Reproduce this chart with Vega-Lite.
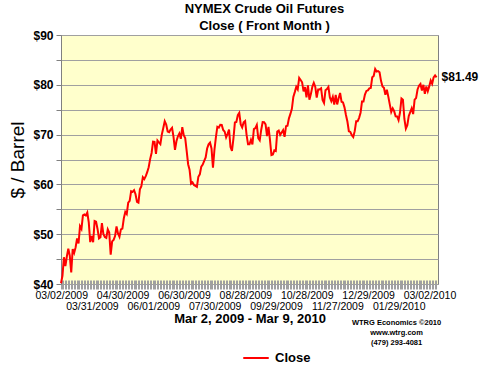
{
  "$schema": "https://vega.github.io/schema/vega-lite/v6.json",
  "width": 377,
  "height": 249,
  "autosize": "none",
  "padding": {"left": 61, "top": 35, "right": 62, "bottom": 91},
  "background": "white",
  "config": {
    "font": "Liberation Sans",
    "view": {"fill": "#FFFFCC", "stroke": "#808080", "strokeWidth": 1},
    "axis": {"labelFont": "Liberation Sans", "titleFont": "Liberation Sans", "labelColor": "black", "titleColor": "black"}
  },
  "title": {
    "text": ["NYMEX Crude Oil Futures", "Close ( Front Month )"],
    "font": "Liberation Sans",
    "fontSize": 13,
    "fontWeight": "bold",
    "lineHeight": 17,
    "anchor": "middle",
    "dx": 15,
    "offset": -4,
    "color": "black"
  },
  "data": {
    "values": [
      {"date":"03/02/2009","close":40.15},{"date":"03/03/2009","close":41.65},{"date":"03/04/2009","close":45.38},{"date":"03/05/2009","close":43.61},{"date":"03/06/2009","close":45.52},
      {"date":"03/09/2009","close":47.07},{"date":"03/10/2009","close":45.71},{"date":"03/11/2009","close":42.33},{"date":"03/12/2009","close":47.03},{"date":"03/13/2009","close":46.25},
      {"date":"03/16/2009","close":47.35},{"date":"03/17/2009","close":49.16},{"date":"03/18/2009","close":48.14},{"date":"03/19/2009","close":51.61},{"date":"03/20/2009","close":51.06},
      {"date":"03/23/2009","close":53.80},{"date":"03/24/2009","close":53.98},{"date":"03/25/2009","close":53.77},{"date":"03/26/2009","close":54.34},{"date":"03/27/2009","close":52.38},
      {"date":"03/30/2009","close":48.41},{"date":"03/31/2009","close":49.66},
      {"date":"04/01/2009","close":48.39},{"date":"04/02/2009","close":52.64},{"date":"04/03/2009","close":52.51},
      {"date":"04/06/2009","close":51.05},{"date":"04/07/2009","close":49.15},{"date":"04/08/2009","close":49.38},{"date":"04/09/2009","close":52.24},
      {"date":"04/13/2009","close":50.05},{"date":"04/14/2009","close":49.41},{"date":"04/15/2009","close":49.25},{"date":"04/16/2009","close":50.98},{"date":"04/17/2009","close":50.33},
      {"date":"04/20/2009","close":45.88},{"date":"04/21/2009","close":48.55},{"date":"04/22/2009","close":48.86},{"date":"04/23/2009","close":49.62},{"date":"04/24/2009","close":51.55},
      {"date":"04/27/2009","close":50.14},{"date":"04/28/2009","close":49.48},{"date":"04/29/2009","close":50.97},{"date":"04/30/2009","close":51.12},
      {"date":"05/01/2009","close":53.20},
      {"date":"05/04/2009","close":54.47},{"date":"05/05/2009","close":54.06},{"date":"05/06/2009","close":56.34},{"date":"05/07/2009","close":56.71},{"date":"05/08/2009","close":58.63},
      {"date":"05/11/2009","close":58.50},{"date":"05/12/2009","close":58.85},{"date":"05/13/2009","close":58.02},{"date":"05/14/2009","close":56.51},{"date":"05/15/2009","close":56.34},
      {"date":"05/18/2009","close":59.03},{"date":"05/19/2009","close":59.65},{"date":"05/20/2009","close":61.45},{"date":"05/21/2009","close":61.05},{"date":"05/22/2009","close":61.67},
      {"date":"05/26/2009","close":62.45},{"date":"05/27/2009","close":63.45},{"date":"05/28/2009","close":65.08},{"date":"05/29/2009","close":66.31},
      {"date":"06/01/2009","close":68.58},{"date":"06/02/2009","close":68.55},{"date":"06/03/2009","close":66.12},{"date":"06/04/2009","close":68.81},{"date":"06/05/2009","close":68.44},
      {"date":"06/08/2009","close":68.09},{"date":"06/09/2009","close":70.01},{"date":"06/10/2009","close":71.33},{"date":"06/11/2009","close":72.68},{"date":"06/12/2009","close":72.04},
      {"date":"06/15/2009","close":70.62},{"date":"06/16/2009","close":70.47},{"date":"06/17/2009","close":71.03},{"date":"06/18/2009","close":71.37},{"date":"06/19/2009","close":69.55},
      {"date":"06/22/2009","close":66.93},{"date":"06/23/2009","close":68.67},{"date":"06/24/2009","close":69.66},{"date":"06/25/2009","close":70.23},{"date":"06/26/2009","close":69.16},
      {"date":"06/29/2009","close":71.49},{"date":"06/30/2009","close":69.89},
      {"date":"07/01/2009","close":69.31},{"date":"07/02/2009","close":66.73},
      {"date":"07/06/2009","close":64.05},{"date":"07/07/2009","close":62.93},{"date":"07/08/2009","close":60.14},{"date":"07/09/2009","close":60.41},{"date":"07/10/2009","close":59.89},
      {"date":"07/13/2009","close":59.69},{"date":"07/14/2009","close":59.52},{"date":"07/15/2009","close":61.54},{"date":"07/16/2009","close":62.02},{"date":"07/17/2009","close":63.56},
      {"date":"07/20/2009","close":63.98},{"date":"07/21/2009","close":64.72},{"date":"07/22/2009","close":65.40},{"date":"07/23/2009","close":67.20},{"date":"07/24/2009","close":68.05},
      {"date":"07/27/2009","close":68.38},{"date":"07/28/2009","close":67.23},{"date":"07/29/2009","close":63.35},{"date":"07/30/2009","close":66.94},{"date":"07/31/2009","close":69.45},
      {"date":"08/03/2009","close":71.58},{"date":"08/04/2009","close":71.42},{"date":"08/05/2009","close":71.97},{"date":"08/06/2009","close":71.94},{"date":"08/07/2009","close":70.93},
      {"date":"08/10/2009","close":70.60},{"date":"08/11/2009","close":69.45},{"date":"08/12/2009","close":70.16},{"date":"08/13/2009","close":71.01},{"date":"08/14/2009","close":67.51},
      {"date":"08/17/2009","close":66.75},{"date":"08/18/2009","close":69.19},{"date":"08/19/2009","close":72.42},{"date":"08/20/2009","close":72.54},{"date":"08/21/2009","close":73.89},
      {"date":"08/24/2009","close":74.37},{"date":"08/25/2009","close":72.05},{"date":"08/26/2009","close":71.43},{"date":"08/27/2009","close":72.49},{"date":"08/28/2009","close":72.74},
      {"date":"08/31/2009","close":69.96},
      {"date":"09/01/2009","close":68.05},{"date":"09/02/2009","close":68.05},{"date":"09/03/2009","close":68.96},{"date":"09/04/2009","close":68.02},
      {"date":"09/08/2009","close":71.10},{"date":"09/09/2009","close":71.31},{"date":"09/10/2009","close":71.94},{"date":"09/11/2009","close":69.29},
      {"date":"09/14/2009","close":68.86},{"date":"09/15/2009","close":70.93},{"date":"09/16/2009","close":72.51},{"date":"09/17/2009","close":72.47},{"date":"09/18/2009","close":72.04},
      {"date":"09/21/2009","close":69.71},{"date":"09/22/2009","close":71.55},{"date":"09/23/2009","close":68.97},{"date":"09/24/2009","close":65.89},{"date":"09/25/2009","close":66.02},
      {"date":"09/28/2009","close":66.84},{"date":"09/29/2009","close":66.71},{"date":"09/30/2009","close":70.61},
      {"date":"10/01/2009","close":70.82},{"date":"10/02/2009","close":69.95},
      {"date":"10/05/2009","close":70.41},{"date":"10/06/2009","close":70.88},{"date":"10/07/2009","close":69.57},{"date":"10/08/2009","close":71.69},{"date":"10/09/2009","close":71.77},
      {"date":"10/12/2009","close":73.27},{"date":"10/13/2009","close":74.15},{"date":"10/14/2009","close":75.18},{"date":"10/15/2009","close":77.58},{"date":"10/16/2009","close":78.53},
      {"date":"10/19/2009","close":79.61},{"date":"10/20/2009","close":79.09},{"date":"10/21/2009","close":81.37},{"date":"10/22/2009","close":80.95},{"date":"10/23/2009","close":80.50},
      {"date":"10/26/2009","close":78.68},{"date":"10/27/2009","close":79.55},{"date":"10/28/2009","close":77.46},{"date":"10/29/2009","close":79.87},{"date":"10/30/2009","close":77.00},
      {"date":"11/02/2009","close":78.13},{"date":"11/03/2009","close":79.60},{"date":"11/04/2009","close":80.40},{"date":"11/05/2009","close":79.62},{"date":"11/06/2009","close":77.43},
      {"date":"11/09/2009","close":79.05},{"date":"11/10/2009","close":79.07},{"date":"11/11/2009","close":79.28},{"date":"11/12/2009","close":76.94},{"date":"11/13/2009","close":76.35},
      {"date":"11/16/2009","close":78.90},{"date":"11/17/2009","close":79.14},{"date":"11/18/2009","close":79.58},{"date":"11/19/2009","close":77.46},{"date":"11/20/2009","close":76.72},
      {"date":"11/23/2009","close":77.56},{"date":"11/24/2009","close":76.02},{"date":"11/25/2009","close":77.96},{"date":"11/27/2009","close":76.05},
      {"date":"11/30/2009","close":77.28},
      {"date":"12/01/2009","close":78.37},{"date":"12/02/2009","close":76.60},{"date":"12/03/2009","close":76.46},{"date":"12/04/2009","close":75.47},
      {"date":"12/07/2009","close":73.93},{"date":"12/08/2009","close":72.62},{"date":"12/09/2009","close":70.67},{"date":"12/10/2009","close":70.54},{"date":"12/11/2009","close":69.87},
      {"date":"12/14/2009","close":69.51},{"date":"12/15/2009","close":70.69},{"date":"12/16/2009","close":72.66},{"date":"12/17/2009","close":72.66},{"date":"12/18/2009","close":73.36},
      {"date":"12/21/2009","close":74.40},{"date":"12/22/2009","close":76.67},{"date":"12/23/2009","close":76.67},{"date":"12/24/2009","close":78.05},
      {"date":"12/28/2009","close":78.77},{"date":"12/29/2009","close":78.87},{"date":"12/30/2009","close":79.28},{"date":"12/31/2009","close":79.36},
      {"date":"01/04/2010","close":81.51},{"date":"01/05/2010","close":81.77},{"date":"01/06/2010","close":83.18},{"date":"01/07/2010","close":82.66},{"date":"01/08/2010","close":82.75},
      {"date":"01/11/2010","close":82.52},{"date":"01/12/2010","close":80.79},{"date":"01/13/2010","close":79.65},{"date":"01/14/2010","close":79.39},{"date":"01/15/2010","close":78.00},
      {"date":"01/19/2010","close":79.02},{"date":"01/20/2010","close":77.62},{"date":"01/21/2010","close":76.08},{"date":"01/22/2010","close":74.54},
      {"date":"01/25/2010","close":75.26},{"date":"01/26/2010","close":74.71},{"date":"01/27/2010","close":73.67},{"date":"01/28/2010","close":73.64},{"date":"01/29/2010","close":72.89},
      {"date":"02/01/2010","close":74.43},{"date":"02/02/2010","close":77.23},{"date":"02/03/2010","close":76.98},{"date":"02/04/2010","close":73.14},{"date":"02/05/2010","close":71.19},
      {"date":"02/08/2010","close":71.89},{"date":"02/09/2010","close":73.75},{"date":"02/10/2010","close":74.52},{"date":"02/11/2010","close":75.28},{"date":"02/12/2010","close":74.13},
      {"date":"02/16/2010","close":77.01},{"date":"02/17/2010","close":77.33},{"date":"02/18/2010","close":79.06},{"date":"02/19/2010","close":79.81},
      {"date":"02/22/2010","close":80.16},{"date":"02/23/2010","close":78.86},{"date":"02/24/2010","close":80.00},{"date":"02/25/2010","close":78.17},{"date":"02/26/2010","close":79.66},
      {"date":"03/01/2010","close":78.70},{"date":"03/02/2010","close":79.68},{"date":"03/03/2010","close":80.87},{"date":"03/04/2010","close":80.21},{"date":"03/05/2010","close":81.50},
      {"date":"03/08/2010","close":81.87},{"date":"03/09/2010","close":81.49}
    ]
  },
  "encoding": {
    "x": {
      "field": "date",
      "type": "ordinal",
      "sort": null,
      "bandPosition": 0,
      "scale": {"type": "band", "paddingInner": 0, "paddingOuter": 0},
      "axis": {
        "title": "Mar 2, 2009 - Mar 9, 2010",
        "titleFontSize": 13,
        "titleFontWeight": "bold",
        "titlePadding": 0,
        "bandPosition": 0,
        "domain": false,
        "offset": -4,
        "tickSize": 9,
        "tickColor": "#a0a0a0",
        "tickWidth": 1,
        "labelAngle": 0,
        "labelFontSize": 10.5,
        "labelPadding": 1,
        "labelLineHeight": 11.5,
        "labelOverlap": false,
        "labelBound": false,
        "labelFlush": false,
        "labelExpr": "indexof(['03/02/2009','04/30/2009','06/30/2009','08/28/2009','10/28/2009','12/29/2009','03/02/2010'], datum.value) >= 0 ? datum.value : (indexof(['03/31/2009','06/01/2009','07/30/2009','09/29/2009','11/27/2009','01/29/2010'], datum.value) >= 0 ? ['', datum.value] : '')"
      }
    },
    "y": {
      "field": "close",
      "type": "quantitative",
      "scale": {"domain": [40, 90], "nice": false, "zero": false},
      "axis": {
        "title": "$ / Barrel",
        "titleFontSize": 19,
        "titleFontWeight": "normal",
        "titlePadding": 5,
        "values": [40, 45, 50, 55, 60, 65, 70, 75, 80, 85, 90],
        "labelExpr": "datum.value % 10 == 0 ? '$' + datum.value : ''",
        "labelFontSize": 12,
        "labelFontWeight": "bold",
        "labelPadding": 3,
        "tickSize": 5,
        "tickColor": "#808080",
        "domainColor": "#808080",
        "grid": true,
        "gridColor": "#a0a0a0",
        "gridOpacity": 1,
        "gridWidth": 1
      }
    }
  },
  "layer": [
    {
      "mark": {"type": "line", "strokeWidth": 2, "clip": false},
      "encoding": {
        "color": {
          "datum": "Close",
          "scale": {"range": ["#FF0000"]},
          "legend": {
            "title": null,
            "orient": "none",
            "legendX": 181,
            "legendY": 309,
            "symbolType": "stroke",
            "symbolSize": 650,
            "symbolStrokeWidth": 2,
            "labelFont": "Liberation Sans",
            "labelFontSize": 13,
            "labelFontWeight": "bold",
            "labelColor": "black",
            "labelOffset": 5
          }
        }
      }
    },
    {
      "transform": [{"filter": "datum.date == '03/09/2010'"}],
      "mark": {"type": "text", "align": "left", "baseline": "middle", "dx": 5, "font": "Liberation Sans", "fontSize": 12, "fontWeight": "bold", "color": "black"},
      "encoding": {"text": {"field": "close", "type": "quantitative", "format": "$.2f"}}
    },
    {
      "transform": [{"filter": "datum.date == '01/29/2010'"}],
      "mark": {"type": "text", "align": "center", "baseline": "top", "dx": -2, "clip": false, "lineHeight": 10, "font": "Liberation Sans", "fontSize": 7.5, "fontWeight": "bold", "color": "black"},
      "encoding": {
        "x": {"field": "date", "type": "ordinal", "sort": null, "bandPosition": 0},
        "y": {"datum": 33},
        "text": {"value": ["WTRG Economics ©2010", "www.wtrg.com", "(479) 293-4081"]}
      }
    }
  ]
}
